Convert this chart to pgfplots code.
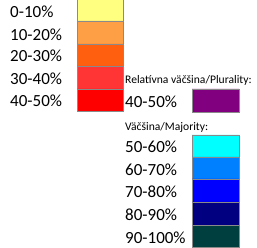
\documentclass[border=0pt]{standalone}
\usepackage{pgfplots}
\pgfplotsset{compat=1.18}
\usepackage{fontspec}
\setmainfont{Carlito}
\definecolor{c1}{HTML}{FFFF80}
\definecolor{c2}{HTML}{FF9F45}
\definecolor{c3}{HTML}{FF5F0F}
\definecolor{c4}{HTML}{FF3535}
\definecolor{c5}{HTML}{FF0000}
\definecolor{p1}{HTML}{800080}
\definecolor{b1}{HTML}{00FFFF}
\definecolor{b2}{HTML}{0080FF}
\definecolor{b3}{HTML}{0000FF}
\definecolor{b4}{HTML}{000080}
\definecolor{b5}{HTML}{003F3F}
\definecolor{bd}{HTML}{8A8A8A}
\begin{document}
\begin{tikzpicture}
\begin{axis}[hide axis, scale only axis, width=257pt, height=248pt,
  xmin=0, xmax=257, ymin=0, ymax=248, y dir=reverse, clip=true]
\path[use as bounding box] (rel axis cs:0,0) rectangle (rel axis cs:1,1);
% left column
\addplot[fill=c1, draw=bd, line width=0.5pt] coordinates {(77,-5) (123,-5) (123,21) (77,21) (77,-5)};
\addplot[fill=c2, draw=bd, line width=0.5pt] coordinates {(77,21) (123,21) (123,44) (77,44) (77,21)};
\addplot[fill=c3, draw=bd, line width=0.5pt] coordinates {(77,44) (123,44) (123,66) (77,66) (77,44)};
\addplot[fill=c4, draw=bd, line width=0.5pt] coordinates {(77,66) (123,66) (123,89) (77,89) (77,66)};
\addplot[fill=c5, draw=bd, line width=0.5pt] coordinates {(77,89) (123,89) (123,111) (77,111) (77,89)};
% plurality
\addplot[fill=p1, draw=bd, line width=0.5pt] coordinates {(192,89) (239,89) (239,112) (192,112) (192,89)};
% majority
\addplot[fill=b1, draw=bd, line width=0.5pt] coordinates {(192,135) (239,135) (239,157) (192,157) (192,135)};
\addplot[fill=b2, draw=bd, line width=0.5pt] coordinates {(192,157) (239,157) (239,179) (192,179) (192,157)};
\addplot[fill=b3, draw=bd, line width=0.5pt] coordinates {(192,179) (239,179) (239,202) (192,202) (192,179)};
\addplot[fill=b4, draw=bd, line width=0.5pt] coordinates {(192,202) (239,202) (239,225) (192,225) (192,202)};
\addplot[fill=b5, draw=bd, line width=0.5pt] coordinates {(192,225) (239,225) (239,247) (192,247) (192,225)};
% labels
\begin{scope}[every node/.style={anchor=west, inner sep=0pt, font=\fontsize{17}{19}\selectfont}]
\node at (axis cs:10,12) {0-10\%};
\node at (axis cs:10,35) {10-20\%};
\node at (axis cs:10,56) {20-30\%};
\node at (axis cs:10,79) {30-40\%};
\node at (axis cs:10,101) {40-50\%};
\node at (axis cs:125,102) {40-50\%};
\node at (axis cs:125,147) {50-60\%};
\node at (axis cs:125,170) {60-70\%};
\node at (axis cs:125,192) {70-80\%};
\node at (axis cs:125,215) {80-90\%};
\node at (axis cs:125,238) {90-100\%};
\end{scope}
\node[anchor=west, inner sep=0pt, font=\fontsize{11.6}{13}\selectfont] at (axis cs:125,80) {Relatívna väčšina/Plurality:};
\node[anchor=west, inner sep=0pt, font=\fontsize{11.6}{13}\selectfont] at (axis cs:125,127) {Väčšina/Majority:};
\end{axis}
\end{tikzpicture}
\end{document}
